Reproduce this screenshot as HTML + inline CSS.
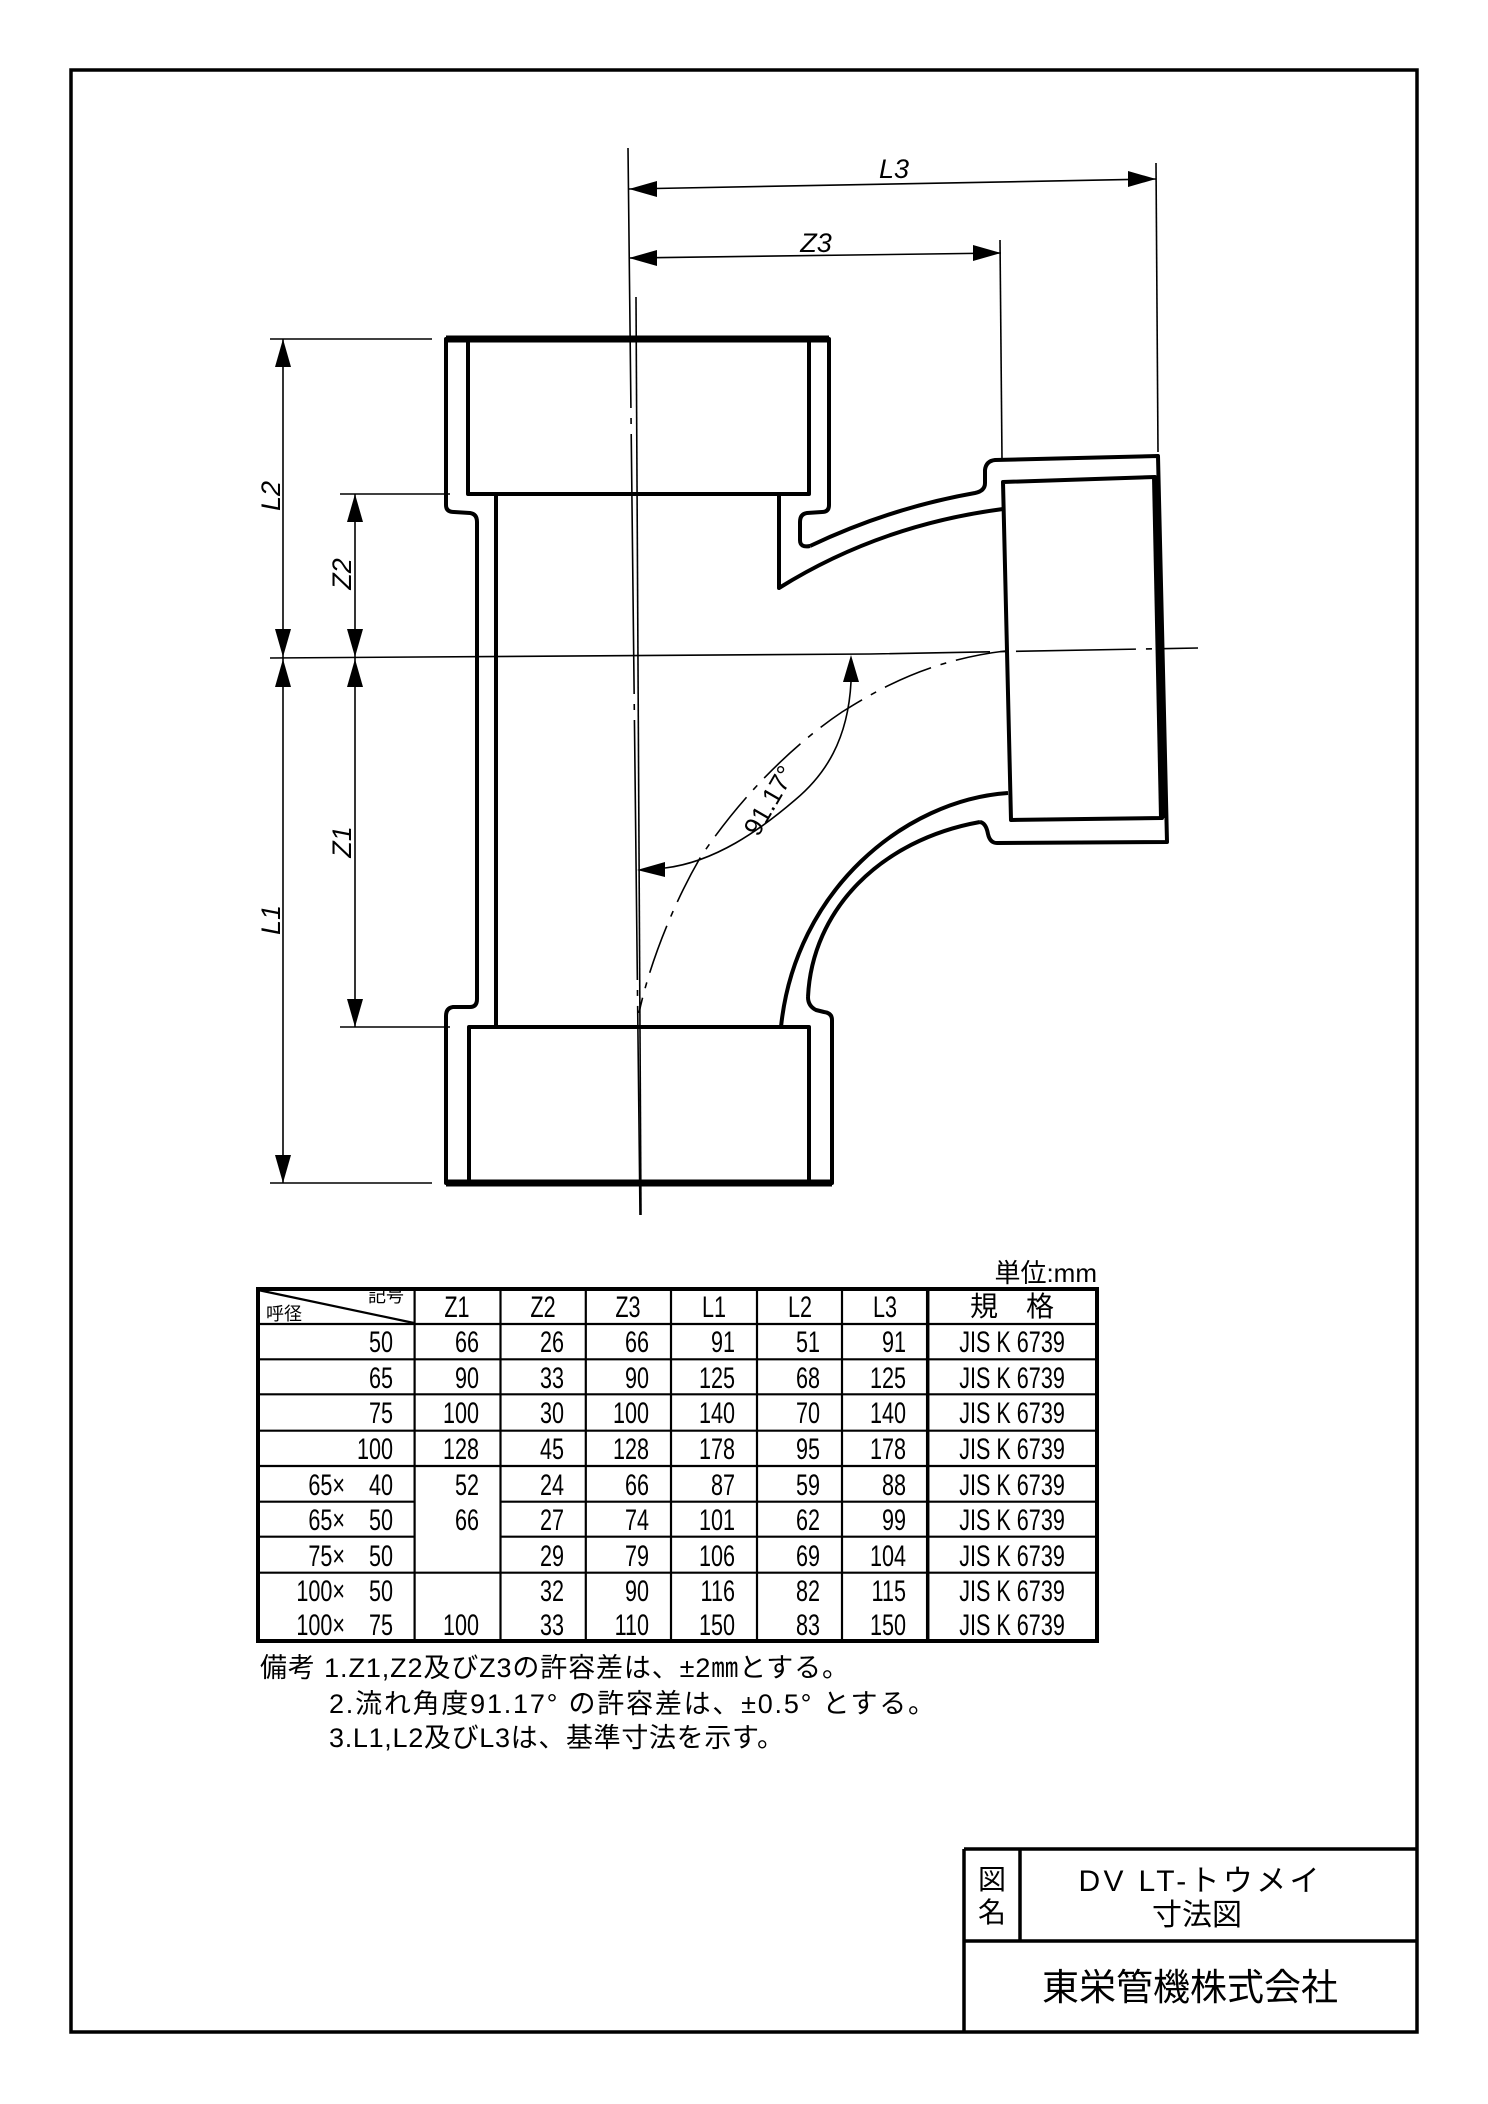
<!DOCTYPE html>
<html><head><meta charset="utf-8"><style>
html,body{margin:0;padding:0;background:#fff}
svg{display:block}
.t{font-family:"Liberation Sans","Noto Sans CJK JP",sans-serif;font-size:30px;fill:#000}
.n{font-family:"Liberation Sans","Noto Sans CJK JP",sans-serif;font-size:26px;fill:#000}
.j{font-family:"Liberation Sans","Noto Sans CJK JP",sans-serif;fill:#000}
.d{font-family:"Liberation Sans",sans-serif;font-style:italic;font-size:27px;fill:#000}
</style></head><body>
<svg width="1488" height="2104" viewBox="0 0 1488 2104" xmlns="http://www.w3.org/2000/svg">
<rect x="0" y="0" width="1488" height="2104" fill="#fff"/>
<rect x="71" y="70" width="1346" height="1962" fill="none" stroke="#000" stroke-width="3.5"/>

<g fill="none" stroke="#000" stroke-width="4" stroke-linejoin="round">
<path d="M446,505 L446,339 L829,339 L829,505 Q829,512 822,512 L807,513 Q800,514 800,522 L800,540 Q800,548 810,546"/>
<line x1="446" y1="339" x2="829" y2="339" stroke-width="7"/>
<path d="M468,339 L468,494 L809,494 L809,339"/>
<path d="M446,505 Q446,512 454,512 L470,513 Q477,514 477,522 L477,999 Q477,1007 470,1007 L453,1007 Q446,1008 446,1016 L446,1183 L832,1183 L832,1020 Q832,1013 824,1012 L816,1010 Q808,1006 808,997"/>
<line x1="446" y1="1183" x2="832" y2="1183" stroke-width="7"/>
<line x1="496" y1="494" x2="496" y2="1027"/>
<path d="M469,1183 L469,1027 L809,1027 L809,1183"/>
<path d="M779,494 L779,588 Q880,525 1003,509"/>
<path d="M810,546 Q890,508 975,493 Q985,491 985,483 L985,470 Q986,461 995,460 L1158,456 L1167,842 L997,843 Q990,843 988,834 Q986,823 980,822"/>
<path d="M980,822 C880,840 812,910 808,997"/>
<path d="M1008,793 C905,800 795,890 781,1027"/>
<path d="M1003,482 L1155,477 L1162,818 L1011,820 Z"/>
<line x1="1155" y1="477" x2="1162" y2="818" stroke-width="6"/>
</g>

<g fill="none" stroke="#000" stroke-width="1.6">
<line x1="270" y1="658" x2="870" y2="654"/>
<line x1="870" y1="654" x2="1198" y2="648" stroke-dasharray="120,10,6,10"/>
<line x1="628" y1="148" x2="640" y2="1215" stroke-dasharray="260,10,6,10"/>
<line x1="636" y1="297" x2="641" y2="1215"/>
<path d="M1005,651 C930,660 880,688 842,712 C800,740 745,790 700,858 C670,910 648,970 639,1013" stroke-dasharray="50,10,6,10"/>
<path d="M851,682 C848,740 825,775 795,800 C760,830 715,862 665,868"/>
<line x1="270" y1="339" x2="432" y2="339"/>
<line x1="340" y1="494" x2="450" y2="494"/>
<line x1="340" y1="1027" x2="450" y2="1027"/>
<line x1="270" y1="1183" x2="432" y2="1183"/>
<line x1="283" y1="339" x2="283" y2="1183"/>
<line x1="355" y1="494" x2="355" y2="1027"/>
<line x1="629" y1="189" x2="1156" y2="179"/>
<line x1="629" y1="258" x2="1001" y2="253"/>
<line x1="1156" y1="163" x2="1158" y2="452"/>
<line x1="1000" y1="240" x2="1002" y2="460"/>
</g>
<g fill="#000">
<polygon points="283,339 275,367 291,367"/>
<polygon points="283,657 275,629 291,629"/>
<polygon points="283,659 275,687 291,687"/>
<polygon points="283,1183 275,1155 291,1155"/>
<polygon points="355,494 347,522 363,522"/>
<polygon points="355,657 347,629 363,629"/>
<polygon points="355,659 347,687 363,687"/>
<polygon points="355,1027 347,999 363,999"/>
<polygon points="629,189 657,181 657,197"/>
<polygon points="1156,179 1128,171 1128,187"/>
<polygon points="629,258 657,250 657,266"/>
<polygon points="1001,253 973,245 973,261"/>
<polygon points="851,655 843,682 859,682"/>
<polygon points="637,870 665,862 665,877"/>
</g>
<text class="d" x="894" y="178" text-anchor="middle">L3</text>
<text class="d" x="816" y="252" text-anchor="middle">Z3</text>
<text class="d" transform="translate(280,496) rotate(-90)" text-anchor="middle">L2</text>
<text class="d" transform="translate(351,574) rotate(-90)" text-anchor="middle">Z2</text>
<text class="d" transform="translate(351,842) rotate(-90)" text-anchor="middle">Z1</text>
<text class="d" transform="translate(280,920) rotate(-90)" text-anchor="middle">L1</text>
<text class="d" transform="translate(777,805) rotate(-60)" text-anchor="middle" style="font-style:normal;font-size:26px">91.17°</text>

<!-- table -->
<text class="n" x="1097" y="1282" text-anchor="end">単位:mm</text>
<g stroke="#000" fill="none">
<rect x="258" y="1289" width="839" height="352" stroke-width="4"/>
<g stroke-width="2.2">
<line x1="414.6" y1="1289" x2="414.6" y2="1641"/>
<line x1="500.5" y1="1289" x2="500.5" y2="1641"/>
<line x1="585.8" y1="1289" x2="585.8" y2="1641"/>
<line x1="671" y1="1289" x2="671" y2="1641"/>
<line x1="757" y1="1289" x2="757" y2="1641"/>
<line x1="842" y1="1289" x2="842" y2="1641"/>
<line x1="258" y1="1324" x2="1097" y2="1324"/>
<line x1="258" y1="1359.3" x2="1097" y2="1359.3"/>
<line x1="258" y1="1394.3" x2="1097" y2="1394.3"/>
<line x1="258" y1="1430.7" x2="1097" y2="1430.7"/>
<line x1="258" y1="1466" x2="1097" y2="1466"/>
<line x1="258" y1="1501.7" x2="414.6" y2="1501.7"/>
<line x1="500.5" y1="1501.7" x2="1097" y2="1501.7"/>
<line x1="258" y1="1536.7" x2="414.6" y2="1536.7"/>
<line x1="500.5" y1="1536.7" x2="1097" y2="1536.7"/>
<line x1="258" y1="1572.7" x2="1097" y2="1572.7"/>
<line x1="258" y1="1290" x2="414" y2="1323"/>
</g>
<line x1="927.7" y1="1289" x2="927.7" y2="1641" stroke-width="3.5"/>
</g>
<text class="n" x="386" y="1302" text-anchor="middle" style="font-size:18px">記号</text>
<text class="n" x="284" y="1320" text-anchor="middle" style="font-size:18px">呼径</text>
<g transform="scale(0.72,1)">
<g class="t" text-anchor="middle">
<text x="634.7" y="1317">Z1</text>
<text x="754.2" y="1317">Z2</text>
<text x="872.2" y="1317">Z3</text>
<text x="991.7" y="1317">L1</text>
<text x="1111.1" y="1317">L2</text>
<text x="1229.2" y="1317">L3</text>
</g>
<g class="t" text-anchor="end">
<text x="545.8" y="1352">50</text><text x="665.3" y="1352">66</text><text x="783.3" y="1352">26</text><text x="901.4" y="1352">66</text><text x="1020.8" y="1352">91</text><text x="1138.9" y="1352">51</text><text x="1258.3" y="1352">91</text>
<text x="545.8" y="1388">65</text><text x="665.3" y="1388">90</text><text x="783.3" y="1388">33</text><text x="901.4" y="1388">90</text><text x="1020.8" y="1388">125</text><text x="1138.9" y="1388">68</text><text x="1258.3" y="1388">125</text>
<text x="545.8" y="1423">75</text><text x="665.3" y="1423">100</text><text x="783.3" y="1423">30</text><text x="901.4" y="1423">100</text><text x="1020.8" y="1423">140</text><text x="1138.9" y="1423">70</text><text x="1258.3" y="1423">140</text>
<text x="545.8" y="1459">100</text><text x="665.3" y="1459">128</text><text x="783.3" y="1459">45</text><text x="901.4" y="1459">128</text><text x="1020.8" y="1459">178</text><text x="1138.9" y="1459">95</text><text x="1258.3" y="1459">178</text>
<text x="479.2" y="1495">65×</text><text x="545.8" y="1495">40</text><text x="665.3" y="1495">52</text><text x="783.3" y="1495">24</text><text x="901.4" y="1495">66</text><text x="1020.8" y="1495">87</text><text x="1138.9" y="1495">59</text><text x="1258.3" y="1495">88</text>
<text x="479.2" y="1530">65×</text><text x="545.8" y="1530">50</text><text x="665.3" y="1530">66</text><text x="783.3" y="1530">27</text><text x="901.4" y="1530">74</text><text x="1020.8" y="1530">101</text><text x="1138.9" y="1530">62</text><text x="1258.3" y="1530">99</text>
<text x="479.2" y="1566">75×</text><text x="545.8" y="1566">50</text><text x="783.3" y="1566">29</text><text x="901.4" y="1566">79</text><text x="1020.8" y="1566">106</text><text x="1138.9" y="1566">69</text><text x="1258.3" y="1566">104</text>
<text x="479.2" y="1601">100×</text><text x="545.8" y="1601">50</text><text x="783.3" y="1601">32</text><text x="901.4" y="1601">90</text><text x="1020.8" y="1601">116</text><text x="1138.9" y="1601">82</text><text x="1258.3" y="1601">115</text>
<text x="479.2" y="1635">100×</text><text x="545.8" y="1635">75</text><text x="665.3" y="1635">100</text><text x="783.3" y="1635">33</text><text x="901.4" y="1635">110</text><text x="1020.8" y="1635">150</text><text x="1138.9" y="1635">83</text><text x="1258.3" y="1635">150</text>
</g>
<g class="t" text-anchor="middle">
<text x="1405.6" y="1352">JIS  K  6739</text><text x="1405.6" y="1388">JIS  K  6739</text><text x="1405.6" y="1423">JIS  K  6739</text><text x="1405.6" y="1459">JIS  K  6739</text><text x="1405.6" y="1495">JIS  K  6739</text><text x="1405.6" y="1530">JIS  K  6739</text><text x="1405.6" y="1566">JIS  K  6739</text><text x="1405.6" y="1601">JIS  K  6739</text><text x="1405.6" y="1635">JIS  K  6739</text>
</g>
</g>
<text class="n" x="1012" y="1316" text-anchor="middle" style="font-size:28px">規　格</text>
<g class="n" style="font-size:27px">
<text x="260" y="1677" textLength="589" lengthAdjust="spacing">備考 1.Z1,Z2及びZ3の許容差は、±2㎜とする。</text>
<text x="329" y="1713" textLength="606" lengthAdjust="spacing">2.流れ角度91.17° の許容差は、±0.5° とする。</text>
<text x="329" y="1747" textLength="455" lengthAdjust="spacing">3.L1,L2及びL3は、基準寸法を示す。</text>
</g>

<g stroke="#000" stroke-width="3.5" fill="none">
<line x1="964" y1="1849" x2="1417" y2="1849"/>
<line x1="964" y1="1941" x2="1417" y2="1941"/>
<line x1="964" y1="1849" x2="964" y2="2032"/>
<line x1="1020" y1="1849" x2="1020" y2="1941"/>
</g>
<g class="j" text-anchor="middle">
<text x="992" y="1889" style="font-size:28px">図</text>
<text x="992" y="1922" style="font-size:28px">名</text>
<text x="1199" y="1891" style="font-size:30px" textLength="241" lengthAdjust="spacing">DV LT-トウメイ</text>
<text x="1197" y="1925" style="font-size:30px">寸法図</text>
<text x="1190" y="2000" style="font-size:37px">東栄管機株式会社</text>
</g>
</svg>
</body></html>
